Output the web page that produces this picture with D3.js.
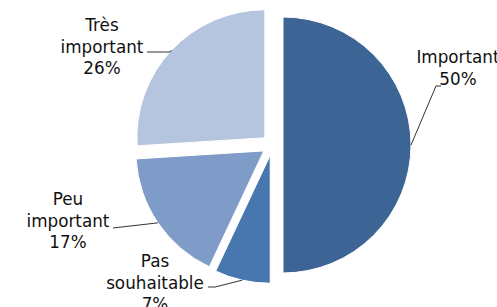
<!DOCTYPE html>
<html>
<head>
<meta charset="utf-8">
<script src="https://cdnjs.cloudflare.com/ajax/libs/d3/7.8.5/d3.min.js"></script>
<style>
  html, body { margin: 0; padding: 0; background: #fff; }
  svg { display: block; }
  text { font-family: "DejaVu Sans", sans-serif; font-size: 16.8px; fill: #111; }
</style>
</head>
<body>
<svg id="chart" width="497" height="307"></svg>
<script>
// data, clockwise from 12 o'clock
const categories = ['Important', 'Pas souhaitable', 'Peu important', 'Très important'];
const values = [50, 7, 17, 26];
const labelLines = [
  ['Important', '50%'],
  ['Pas', 'souhaitable', '7%'],
  ['Peu', 'important', '17%'],
  ['Très', 'important', '26%']
];
const colors = ['#3c6595', '#4876ae', '#7f9cc8', '#b5c4df'];

// layout (not data): label centre x, first baseline, leader start + elbow
const labelPos = [
  { x: 458, y: 63, anchor: [441, 86], elbow: [436, 86] },
  { x: 155, y: 267, anchor: [208, 287], elbow: [215, 287] },
  { x: 68, y: 205, anchor: [113, 228], elbow: null },
  { x: 102, y: 31, anchor: [147, 52], elbow: [170, 52] }
];

const W = 497, H = 307;
const cx = 272.5, cy = 145, R = 128, explode = 10.5;
const lineH = 21.5;

const svg = d3.select('#chart');

const pie = d3.pie().sort(null).value(d => d)(values);
const arc = d3.arc().innerRadius(0).outerRadius(R);

// offset of each slice along its bisector
function offset(d) {
  const a = (d.startAngle + d.endAngle) / 2;
  return [Math.sin(a) * explode, -Math.cos(a) * explode];
}

const g = svg.append('g').attr('transform', `translate(${cx},${cy})`);

g.selectAll('path.slice')
  .data(pie)
  .enter()
  .append('path')
  .attr('class', 'slice')
  .attr('transform', d => `translate(${offset(d)})`)
  .attr('d', arc)
  .attr('fill', (d, i) => colors[i])
  .attr('stroke', '#fff')
  .attr('stroke-width', 1);

// leader lines: from label to the outer edge at the slice's mid angle
pie.forEach((d, i) => {
  const a = (d.startAngle + d.endAngle) / 2;
  const [ox, oy] = offset(d);
  const ex = cx + ox + Math.sin(a) * R;
  const ey = cy + oy - Math.cos(a) * R;
  const lp = labelPos[i];
  const pts = [lp.anchor];
  if (lp.elbow) pts.push(lp.elbow);
  pts.push([ex, ey]);
  svg.append('path')
    .attr('d', d3.line()(pts))
    .attr('fill', 'none')
    .attr('stroke', '#333')
    .attr('stroke-width', 1);
});

// labels
labelLines.forEach((lines, i) => {
  const lp = labelPos[i];
  const t = svg.append('text').attr('text-anchor', 'middle');
  lines.forEach((s, j) => {
    t.append('tspan')
      .attr('x', lp.x)
      .attr('y', lp.y + j * lineH)
      .text(s);
  });
});
</script>
</body>
</html>
